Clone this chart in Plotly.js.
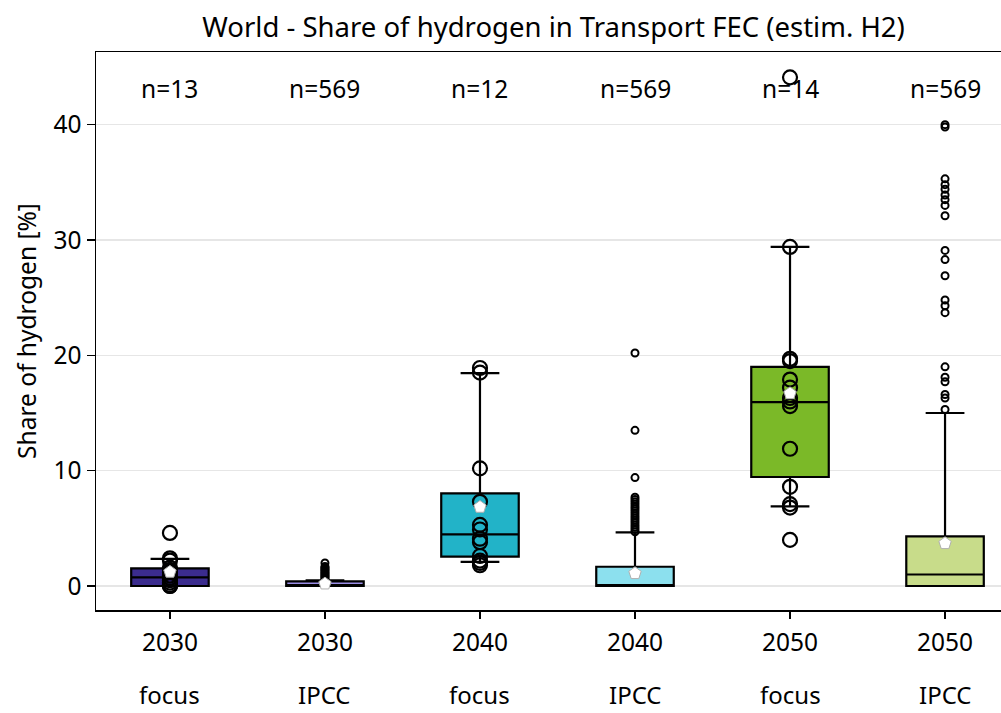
<!DOCTYPE html>
<html>
<head>
<meta charset="utf-8">
<script src="https://cdn.plot.ly/plotly-3.0.1.min.js"></script>
<style>html,body{margin:0;padding:0;background:#fff;}#chart{width:1001px;height:713px;}</style>
</head>
<body>
<div id="chart"></div>
<script>
// ---- data ----
var categories = ["2030 focus", "2030 IPCC", "2040 focus", "2040 IPCC", "2050 focus", "2050 IPCC"];
var yearLabels = ["2030", "2030", "2040", "2040", "2050", "2050"];
var groupLabels = ["focus", "IPCC", "focus", "IPCC", "focus", "IPCC"];
var counts = [13, 569, 12, 569, 14, 569];

// box statistics
var q1 = [0.0, 0.0, 2.55, 0.0, 9.45, 0.0];
var medians = [0.75, 0.05, 4.47, 0.02, 15.95, 1.0];
var q3 = [1.53, 0.4, 8.03, 1.67, 19.0, 4.3];
var lowerWhisker = [0.0, 0.0, 2.1, 0.0, 6.9, 0.0];
var upperWhisker = [2.35, 0.5, 18.45, 4.65, 29.4, 15.0];
var means = [1.22, 0.2, 6.85, 1.1, 16.7, 3.7];

var boxColors = ["#3b2c8e", "#9a8de4", "#22b3c8", "#8ce0ee", "#7bb928", "#c8dc8a"];

// all scenario points of the focus sets
var focus2030 = [4.6, 2.4, 2.2, 1.6, 1.4, 1.2, 0.9, 0.7, 0.5, 0.3, 0.1, 0.0, 0.0];
var focus2040 = [18.9, 18.5, 10.2, 7.3, 5.3, 4.9, 4.1, 3.8, 2.6, 2.2, 2.0, 1.8];
var focus2050 = [44.1, 29.4, 19.7, 19.5, 17.9, 17.2, 16.3, 16.0, 15.6, 11.9, 8.6, 7.1, 6.8, 4.0];

// outliers of the IPCC sets
var ipcc2030Outliers = [0.6, 0.7, 0.8, 0.9, 1.0, 1.1, 1.2, 1.3, 1.4, 1.5, 1.6, 1.7, 2.0];
var ipcc2040Outliers = [20.2, 13.5, 9.4, 7.7, 7.5, 7.3, 7.1, 6.9, 6.7, 6.5, 6.3, 6.1, 5.9, 5.7, 5.5, 5.3, 5.1, 4.9, 4.7];
var ipcc2050Outliers = [40.0, 39.8, 35.3, 34.8, 34.4, 33.9, 33.5, 33.0, 32.1, 29.1, 28.3, 26.9, 24.8, 24.3, 23.7, 19.0, 18.1, 17.7, 16.6, 16.3, 15.3];

// ---- traces ----
var FONT = "Noto Sans, Open Sans, sans-serif";
var TXT = 24.5;
var traces = [];
for (var i = 0; i < categories.length; i++) {
  traces.push({
    type: "box",
    x: [categories[i]],
    q1: [q1[i]], median: [medians[i]], q3: [q3[i]],
    lowerfence: [lowerWhisker[i]], upperfence: [upperWhisker[i]],
    boxpoints: false,
    width: 0.5,
    whiskerwidth: 0.5,
    fillcolor: boxColors[i],
    line: {color: "#000000", width: 2.2},
    hoverinfo: "skip",
    showlegend: false
  });
}

function rep(cat, arr) { return arr.map(function () { return cat; }); }

var focusSets = [[categories[0], focus2030], [categories[2], focus2040], [categories[4], focus2050]];
focusSets.forEach(function (s) {
  traces.push({
    type: "scatter", mode: "markers",
    x: rep(s[0], s[1]), y: s[1],
    marker: {symbol: "circle", size: 14, color: "rgba(0,0,0,0)", line: {color: "#000000", width: 2.2}},
    hoverinfo: "skip", showlegend: false, cliponaxis: false
  });
});

var ipccSets = [[categories[1], ipcc2030Outliers], [categories[3], ipcc2040Outliers], [categories[5], ipcc2050Outliers]];
ipccSets.forEach(function (s) {
  traces.push({
    type: "scatter", mode: "markers",
    x: rep(s[0], s[1]), y: s[1],
    marker: {symbol: "circle", size: 7, color: "rgba(255,255,255,0)", line: {color: "#000000", width: 2}},
    hoverinfo: "skip", showlegend: false
  });
});

traces.push({
  type: "scatter", mode: "markers",
  x: categories, y: means,
  marker: {symbol: "pentagon", size: 13, color: "#ffffff", line: {color: "#b0b0b0", width: 1}},
  hoverinfo: "skip", showlegend: false
});

// ---- annotations ----
var annotations = [];
for (var j = 0; j < categories.length; j++) {
  annotations.push({
    x: categories[j], xref: "x", y: 0.934, yref: "paper",
    text: "n=" + counts[j], showarrow: false,
    font: {family: FONT, size: TXT, color: "#000"}, yanchor: "middle"
  });
  annotations.push({
    x: categories[j], xref: "x", y: -0.152, yref: "paper",
    text: groupLabels[j], showarrow: false, borderpad: 0,
    font: {family: FONT, size: 24, color: "#000"}, yanchor: "middle"
  });
}

var layout = {
  width: 1001, height: 713,
  margin: {l: 96, r: 0, t: 52, b: 103},
  paper_bgcolor: "#ffffff", plot_bgcolor: "#ffffff",
  font: {family: FONT, size: TXT, color: "#000"},
  title: {text: "World - Share of hydrogen in Transport FEC (estim. H2)", font: {family: FONT, size: 27.5, color: "#000"}, x: 0.553, xanchor: "center", y: 0.962, yanchor: "middle"},
  boxmode: "overlay",
  showlegend: false,
  xaxis: {
    type: "category",
    categoryorder: "array", categoryarray: categories,
    tickvals: categories, ticktext: yearLabels,
    range: [-0.477, 5.361],
    showgrid: false, zeroline: false,
    showline: true, linecolor: "#000", linewidth: 1.5, mirror: true,
    ticks: "outside", ticklen: 7, tickcolor: "#000", tickwidth: 1.2,
    ticklabelstandoff: 3,
    tickfont: {family: FONT, size: TXT, color: "#000"}
  },
  yaxis: {
    range: [-2.08, 46.3],
    tickvals: [0, 10, 20, 30, 40],
    showgrid: true, gridcolor: "#e6e6e6", gridwidth: 1.5,
    zeroline: false,
    showline: true, linecolor: "#000", linewidth: 1.5,
    ticks: "outside", ticklen: 8, tickcolor: "#000", tickwidth: 1.2,
    tickfont: {family: FONT, size: TXT, color: "#000"},
    title: {text: "Share of hydrogen [%]", font: {family: FONT, size: 24.5, color: "#000"}, standoff: 10}
  },
  annotations: annotations
};

Plotly.newPlot("chart", traces, layout, {staticPlot: true, displayModeBar: false});
</script>
</body>
</html>
